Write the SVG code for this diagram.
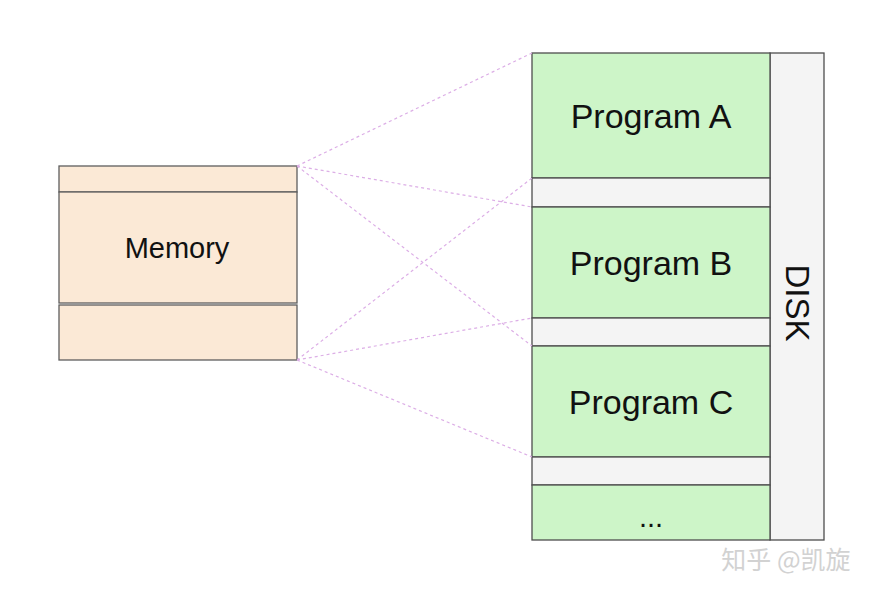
<svg xmlns="http://www.w3.org/2000/svg" width="877" height="594" viewBox="0 0 877 594">
<style>
.mem{fill:#fbe9d6;stroke:#5e5e5e;stroke-width:1.3}
.prog{fill:#cdf5c8;stroke:#4e4e4e;stroke-width:1.3}
.gap{fill:#f4f4f4;stroke:#4e4e4e;stroke-width:1.3}
.lbl{font-family:"Liberation Sans",Arial,sans-serif;fill:#111;text-anchor:middle}
.conn line{stroke:#dcaee6;stroke-width:1.2;stroke-dasharray:3 3;fill:none}
</style>
<rect width="877" height="594" fill="#ffffff"/>
<g id="disk">
<rect class="gap" x="770" y="53" width="54" height="487"/>
<text class="lbl" font-size="33" transform="translate(786,303) rotate(90)">DISK</text>
</g>
<g id="memory">
<rect class="mem" x="59" y="166" width="238" height="26"/>
<rect class="mem" x="59" y="192" width="238" height="111"/>
<rect class="mem" x="59" y="305" width="238" height="55"/>
<text class="lbl" x="177" y="258" font-size="29">Memory</text>
</g>
<g id="programA">
<rect class="prog" x="532" y="53" width="238" height="125"/>
<text class="lbl" x="651" y="128" font-size="34">Program A</text>
</g>
<g id="gap1"><rect class="gap" x="532" y="178" width="238" height="29"/></g>
<g id="programB">
<rect class="prog" x="532" y="207" width="238" height="111"/>
<text class="lbl" x="651" y="275" font-size="34">Program B</text>
</g>
<g id="gap2"><rect class="gap" x="532" y="318" width="238" height="28"/></g>
<g id="programC">
<rect class="prog" x="532" y="346" width="238" height="111"/>
<text class="lbl" x="651" y="414" font-size="34">Program C</text>
</g>
<g id="gap3"><rect class="gap" x="532" y="457" width="238" height="28"/></g>
<g id="more">
<rect class="prog" x="532" y="485" width="238" height="55"/>
<text class="lbl" x="651" y="527" font-size="29">...</text>
</g>
<g id="connectors" class="conn">
<line x1="297" y1="166" x2="532" y2="53"/>
<line x1="297" y1="166" x2="532" y2="207"/>
<line x1="297" y1="166" x2="532" y2="346"/>
<line x1="297" y1="360" x2="532" y2="178"/>
<line x1="297" y1="360" x2="532" y2="318"/>
<line x1="297" y1="360" x2="532" y2="457"/>
</g>
<text x="786" y="569" font-family="'Noto Sans CJK SC',sans-serif" font-size="25" fill="#d2d2d2" text-anchor="middle">知乎 @凯旋</text>
</svg>
